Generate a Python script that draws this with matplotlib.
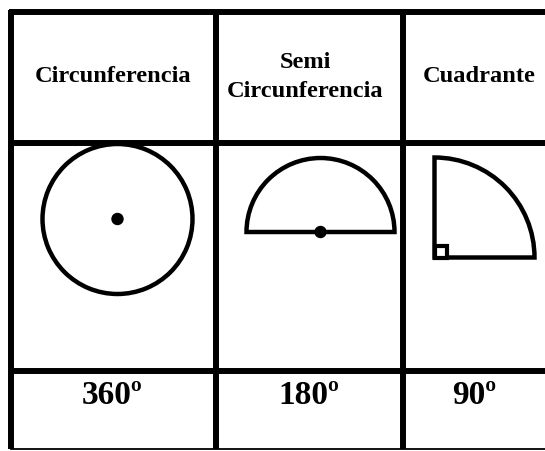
import matplotlib
matplotlib.use("Agg")
import matplotlib.pyplot as plt
from matplotlib.patches import Wedge, Circle, Rectangle

# ---- data ----
headers = ["Circunferencia", "Semi\nCircunferencia", "Cuadrante"]
angles = [360, 180, 90]
degree_labels = ["360º", "180º", "90º"]

# ---- layout (pixels) ----
W, H = 545, 451
col_edges = [11, 215.5, 403]
header_x = [113, 305, 479]
header_y = [77, 77, 77]
deg_x = [112, 309, 474]
row_lines = [11.5, 143, 371]
bottom_y = 449
shape_centers = [(117.5, 219), (320.5, 232), (434.5, 257.5)]
shape_radii = [75, 74, 100]
shape_start = [0, 180, 270]
dot_centers = [True, True, False]

fig = plt.figure(figsize=(W / 100, H / 100), dpi=100)
ax = fig.add_axes([0, 0, 1, 1])
ax.set_xlim(0, W)
ax.set_ylim(H, 0)
ax.axis("off")

grid_lw = 4.3
# horizontal lines
for y in row_lines:
    ax.plot([col_edges[0] - 2, W], [y, y], color="black", lw=grid_lw, solid_capstyle="butt")
ax.plot([col_edges[0], W], [bottom_y, bottom_y], color="black", lw=1.3)
# vertical lines
for x in col_edges:
    ax.plot([x, x], [row_lines[0] - 2, bottom_y], color="black", lw=grid_lw, solid_capstyle="butt")

font = dict(family="Liberation Serif", weight="bold")
# headers
for cx, hy, txt in zip(header_x, header_y, headers):
    ax.text(cx, hy, txt, ha="center", va="center", fontsize=17.6, linespacing=1.47, **font)

# shapes
for (cx, cy), r, a, st, dot in zip(shape_centers, shape_radii, angles, shape_start, dot_centers):
    w = Wedge((cx, cy), r, st, st + a, facecolor="none", edgecolor="black", lw=3.2,
              joinstyle="miter")
    ax.add_patch(w)
    if dot:
        ax.add_patch(Circle((cx, cy), 5.5, color="black"))
    else:
        ax.add_patch(Rectangle((cx, cy - 12), 12, 12, facecolor="white",
                               edgecolor="black", lw=3.0))

# degree labels
for dx, lab in zip(deg_x, degree_labels):
    ax.text(dx, 395, lab, ha="center", va="center", fontsize=24, **font)

fig.savefig("out.png", dpi=100, facecolor="white")
